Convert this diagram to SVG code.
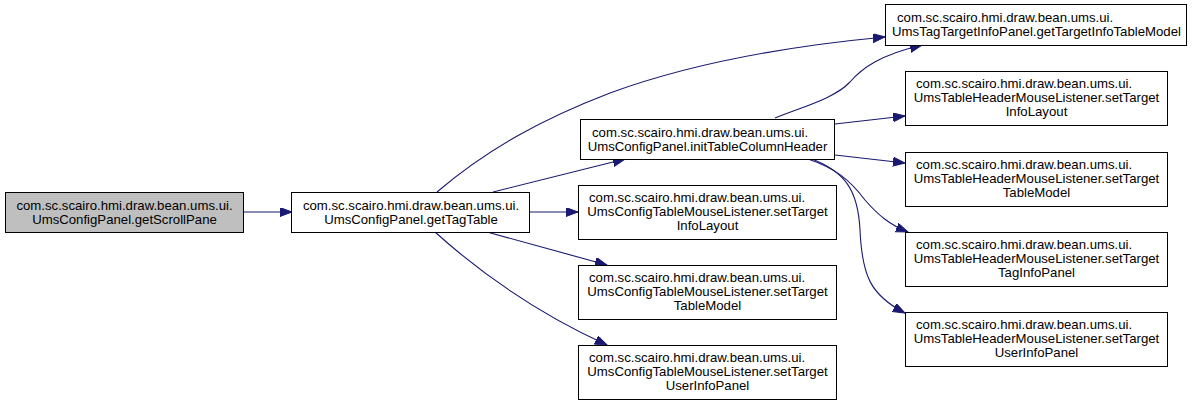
<svg xmlns="http://www.w3.org/2000/svg" width="1193" height="406" viewBox="0 0 1193 406">
<defs>
<style>
.n rect{fill:#ffffff;stroke:#000000;stroke-width:1}
.n.root rect{fill:#bfbfbf}
.n text{font-family:"Liberation Sans",Arial,sans-serif;font-size:13.2px;fill:#000000}
.c{text-anchor:middle}
.e path{fill:none;stroke:#191970;stroke-width:1.1;marker-end:url(#ah)}
</style>
<marker id="ah" markerUnits="userSpaceOnUse" markerWidth="14" markerHeight="10" refX="12" refY="4.5" orient="auto">
<path d="M0,0 L12,4.5 L0,9 z" fill="#191970" stroke="#191970" stroke-width="1"/>
</marker>
</defs>
<rect width="1193" height="406" fill="#ffffff"/>
<g id="edges" class="e">
<path d="M244,212 L292,212"/>
<path d="M437,192 C490,147 545,118 610,93 C700,60 800,45 885,37"/>
<path d="M493,192 L625,159"/>
<path d="M530,212 L578,212"/>
<path d="M487,232 L607,265"/>
<path d="M435,232 C475,268 530,310 607,345"/>
<path d="M775,118 C805,106 835,98 850,82 C862,68 880,55 922,45"/>
<path d="M835,124 L905,116"/>
<path d="M835,155 L905,163"/>
<path d="M808,159 C835,168 850,180 865,200 C878,215 890,225 908,232"/>
<path d="M812,159 C845,172 858,190 860,230 C862,275 870,295 905,313"/>
</g>
<g id="getScrollPane" class="n root">
<rect x="5.5" y="192.5" width="238" height="40"/>
<text class="c" x="124.5" y="209.5">com.sc.scairo.hmi.draw.bean.ums.ui.</text>
<text class="c" x="124.5" y="223.5">UmsConfigPanel.getScrollPane</text>
</g>
<g id="getTagTable" class="n">
<rect x="291.5" y="192.5" width="238" height="40"/>
<text class="c" x="411" y="209.5">com.sc.scairo.hmi.draw.bean.ums.ui.</text>
<text class="c" x="411" y="223.5">UmsConfigPanel.getTagTable</text>
</g>
<g id="initTableColumnHeader" class="n">
<rect x="580.5" y="119.5" width="254" height="40"/>
<text x="592" y="136.5">com.sc.scairo.hmi.draw.bean.ums.ui.</text>
<text class="c" x="707.5" y="150.5">UmsConfigPanel.initTableColumnHeader</text>
</g>
<g id="ctSetTargetInfoLayout" class="n">
<rect x="578.5" y="185.5" width="258" height="54"/>
<text x="589" y="202">com.sc.scairo.hmi.draw.bean.ums.ui.</text>
<text class="c" x="707.5" y="216">UmsConfigTableMouseListener.setTarget</text>
<text class="c" x="707.5" y="230">InfoLayout</text>
</g>
<g id="ctSetTargetTableModel" class="n">
<rect x="578.5" y="265.5" width="258" height="54"/>
<text x="589" y="282">com.sc.scairo.hmi.draw.bean.ums.ui.</text>
<text class="c" x="707.5" y="296">UmsConfigTableMouseListener.setTarget</text>
<text class="c" x="707.5" y="310">TableModel</text>
</g>
<g id="ctSetTargetUserInfoPanel" class="n">
<rect x="578.5" y="345.5" width="258" height="54"/>
<text x="589" y="362">com.sc.scairo.hmi.draw.bean.ums.ui.</text>
<text class="c" x="707.5" y="376">UmsConfigTableMouseListener.setTarget</text>
<text class="c" x="707.5" y="390">UserInfoPanel</text>
</g>
<g id="getTargetInfoTableModel" class="n">
<rect x="885.5" y="4.5" width="301" height="41"/>
<text x="897" y="22">com.sc.scairo.hmi.draw.bean.ums.ui.</text>
<text class="c" x="1036.5" y="36">UmsTagTargetInfoPanel.getTargetInfoTableModel</text>
</g>
<g id="thSetTargetInfoLayout" class="n">
<rect x="905.5" y="71.5" width="262" height="54"/>
<text x="916" y="88">com.sc.scairo.hmi.draw.bean.ums.ui.</text>
<text class="c" x="1036.5" y="102">UmsTableHeaderMouseListener.setTarget</text>
<text class="c" x="1036.5" y="116">InfoLayout</text>
</g>
<g id="thSetTargetTableModel" class="n">
<rect x="905.5" y="152.5" width="262" height="54"/>
<text x="916" y="169">com.sc.scairo.hmi.draw.bean.ums.ui.</text>
<text class="c" x="1036.5" y="183">UmsTableHeaderMouseListener.setTarget</text>
<text class="c" x="1036.5" y="197">TableModel</text>
</g>
<g id="thSetTargetTagInfoPanel" class="n">
<rect x="905.5" y="232.5" width="262" height="54"/>
<text x="916" y="249">com.sc.scairo.hmi.draw.bean.ums.ui.</text>
<text class="c" x="1036.5" y="263">UmsTableHeaderMouseListener.setTarget</text>
<text class="c" x="1036.5" y="277">TagInfoPanel</text>
</g>
<g id="thSetTargetUserInfoPanel" class="n">
<rect x="905.5" y="312.5" width="262" height="54"/>
<text x="916" y="329">com.sc.scairo.hmi.draw.bean.ums.ui.</text>
<text class="c" x="1036.5" y="343">UmsTableHeaderMouseListener.setTarget</text>
<text class="c" x="1036.5" y="357">UserInfoPanel</text>
</g>
</svg>
